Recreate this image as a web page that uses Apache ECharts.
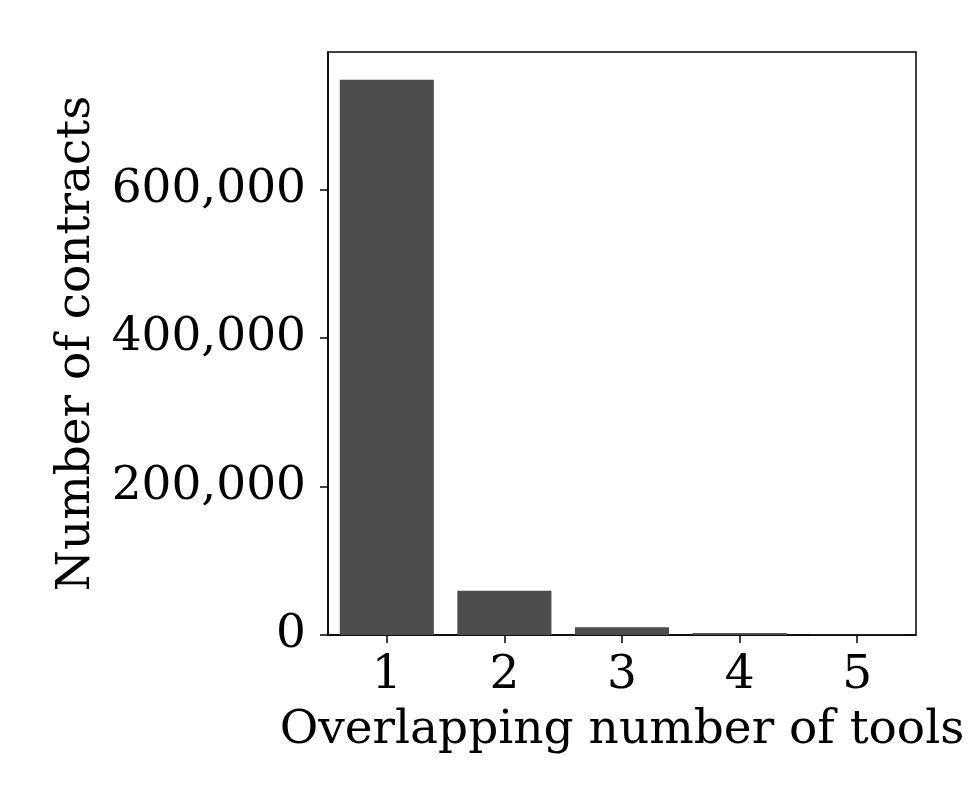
<!DOCTYPE html>
<html><head><meta charset="utf-8">
<script src="https://cdn.jsdelivr.net/npm/echarts@6/dist/echarts.min.js"></script>
<style>html,body{margin:0;padding:0;background:#fff}#c{width:969px;height:807px}</style>
</head><body><div id="c"></div>
<script>
const categories = ['1', '2', '3', '4', '5'];
const contracts = [748000, 59700, 10400, 2700, 300];
const yTicks = [0, 200000, 400000, 600000];
const xTitle = 'Overlapping number of tools';
const yTitle = 'Number of contracts';

const FONT = 'DejaVu Serif';
const chart = echarts.init(document.getElementById('c'), null, {renderer: 'canvas'});
const yMax = Math.max(...contracts) * 1.05;
chart.setOption({
  animation: false,
  backgroundColor: '#fff',
  grid: {left: 328, right: 53, top: 52, bottom: 172, show: true, borderColor: '#000', borderWidth: 1.5, backgroundColor: 'transparent'},
  xAxis: {
    type: 'category', data: categories, boundaryGap: true,
    axisLine: {show: true, lineStyle: {color: '#000', width: 1.5}},
    axisTick: {show: true, alignWithLabel: true, length: 8, lineStyle: {color: '#000', width: 1.5}},
    axisLabel: {fontFamily: FONT, fontSize: 47, color: '#000', margin: 17},
    name: xTitle, nameLocation: 'middle', nameGap: 72,
    nameTextStyle: {fontFamily: FONT, fontSize: 47, color: '#000'}
  },
  yAxis: {
    type: 'value', min: 0, max: yMax,
    splitLine: {show: false},
    axisLine: {show: true, lineStyle: {color: '#000', width: 1.5}},
    axisTick: {show: true, length: 8, customValues: yTicks, lineStyle: {color: '#000', width: 1.5}},
    axisLabel: {fontFamily: FONT, fontSize: 47, color: '#000', margin: 22, customValues: yTicks,
      formatter: v => v.toLocaleString('en-US')},
    name: yTitle, nameLocation: 'middle', nameGap: 226,
    nameTextStyle: {fontFamily: FONT, fontSize: 47, color: '#000'}
  },
  series: [{
    type: 'bar', data: contracts, barWidth: '80%',
    itemStyle: {color: '#4d4d4d'}
  }]
});
</script></body></html>
